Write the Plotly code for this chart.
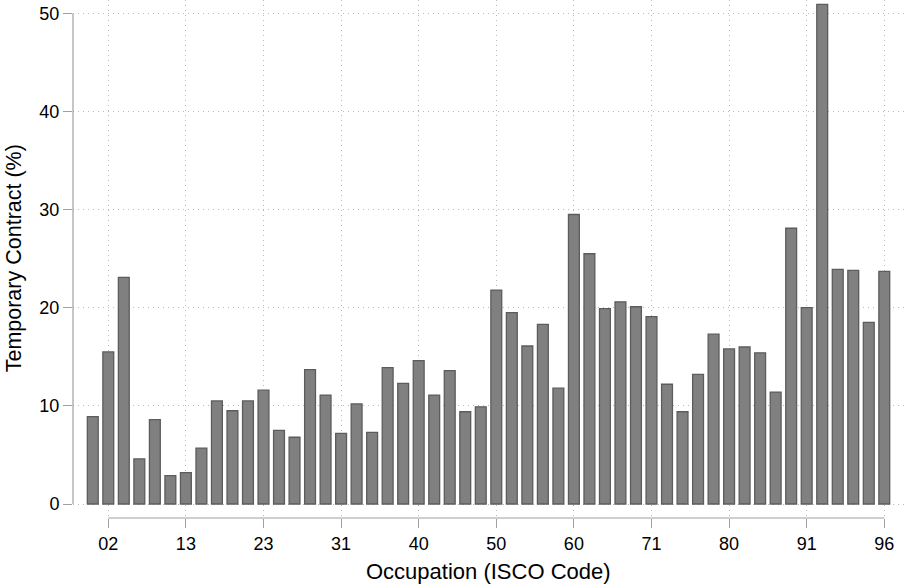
import plotly.graph_objects as go

# Share of employees on a temporary contract, by occupation (ISCO code order)
temp_share = [
    8.9, 15.5, 23.1, 4.6, 8.6, 2.9, 3.2, 5.7, 10.5, 9.5,
    10.5, 11.6, 7.5, 6.8, 13.7, 11.1, 7.2, 10.2, 7.3, 13.9,
    12.3, 14.6, 11.1, 13.6, 9.4, 9.9, 21.8, 19.5, 16.1, 18.3,
    11.8, 29.5, 25.5, 19.9, 20.6, 20.1, 19.1, 12.2, 9.4, 13.2,
    17.3, 15.8, 16.0, 15.4, 11.4, 28.1, 20.0, 50.9, 23.9, 23.8,
    18.5, 23.7,
]
bar_index = list(range(len(temp_share)))

# Labelled occupation codes and the bars they sit under
code_labels = ["02", "13", "23", "31", "40", "50", "60", "71", "80", "91", "96"]
code_positions = [1, 6, 11, 16, 21, 26, 31, 36, 41, 46, 51]

y_ticks = [0, 10, 20, 30, 40, 50]

FONT = "Liberation Sans, Arial, sans-serif"
AXIS_GREY = "#a0a0a0"
GRID_GREY = "#b9b9b9"

fig = go.Figure(
    go.Bar(
        x=bar_index,
        y=temp_share,
        width=0.7,
        marker=dict(color="#808080", line=dict(color="#5c5c5c", width=1.3)),
        hoverinfo="y",
    )
)

fig.update_layout(
    width=904,
    height=586,
    margin=dict(l=73, r=0, t=0, b=68),
    plot_bgcolor="white",
    paper_bgcolor="white",
    showlegend=False,
    font=dict(family=FONT, color="#000000"),
)

fig.update_xaxes(
    range=[-1.274, 52.27],
    tickmode="array",
    tickvals=code_positions,
    ticktext=code_labels,
    ticks="outside",
    ticklen=9,
    tickwidth=1.2,
    tickcolor=AXIS_GREY,
    tickfont=dict(size=18, family=FONT, color="#000000"),
    showgrid=True,
    gridcolor=GRID_GREY,
    gridwidth=1,
    griddash="1px,4px",
    showline=False,
    zeroline=False,
)

fig.update_yaxes(
    range=[-1.4265, 51.355],
    tickmode="array",
    tickvals=y_ticks,
    ticktext=[str(v) for v in y_ticks],
    ticks="outside",
    ticklen=9,
    tickwidth=1.2,
    tickcolor=AXIS_GREY,
    tickfont=dict(size=18, family=FONT, color="#000000"),
    showgrid=True,
    gridcolor=GRID_GREY,
    gridwidth=1,
    griddash="1px,4px",
    showline=False,
    zeroline=False,
)

# Axis lines that only span the labelled range
fig.add_shape(
    type="line", xref="paper", yref="y",
    x0=0, x1=0, y0=y_ticks[0], y1=y_ticks[-1],
    line=dict(color=AXIS_GREY, width=1.2),
)
fig.add_shape(
    type="line", xref="x", yref="paper",
    x0=code_positions[0], x1=code_positions[-1], y0=0, y1=0,
    line=dict(color=AXIS_GREY, width=1.2),
)

# Axis titles
fig.add_annotation(
    text="Occupation (ISCO Code)",
    xref="paper", yref="paper",
    x=0.5, y=-0.104,
    xanchor="center", yanchor="middle",
    showarrow=False,
    font=dict(size=22, family=FONT, color="#000000"),
)
fig.add_annotation(
    text="Temporary Contract (%)",
    xref="paper", yref="y",
    x=-0.0714, y=25,
    xanchor="center", yanchor="middle",
    textangle=-90,
    showarrow=False,
    font=dict(size=21.5, family=FONT, color="#000000"),
)

fig.write_html("out.html")
